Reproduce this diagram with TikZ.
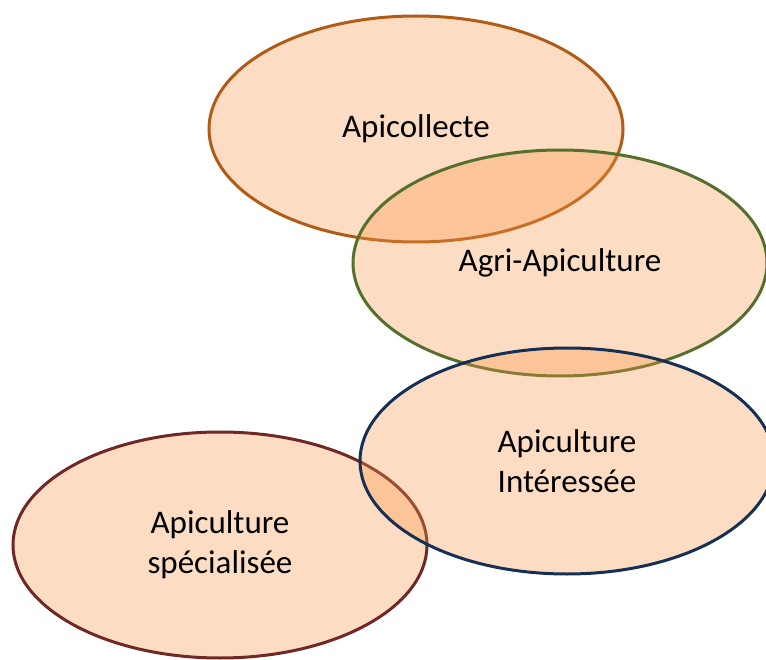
\documentclass[tikz,border=0pt]{standalone}
\usepackage{fontspec}
\setmainfont{Carlito}
\usetikzlibrary{shapes.geometric}
\definecolor{peach}{RGB}{247,150,70}
\definecolor{collecteline}{RGB}{176,92,22}
\definecolor{agriline}{RGB}{85,112,45}
\definecolor{interline}{RGB}{22,48,85}
\definecolor{specline}{RGB}{112,40,38}

\begin{document}
\begin{tikzpicture}[x=1pt, y=-1pt,
	zone node/.style={ellipse, draw, line width=3pt, fill=peach, fill opacity=0.33, text opacity=1,
		minimum width=414pt, minimum height=226pt, inner sep=0pt, align=center,
		font=\fontsize{33}{40}\selectfont}]
	\useasboundingbox (0,0) rectangle (766,660);
	
	% Ellipses, back to front
	\node[zone node, draw=collecteline] (collecte) at (416,129) {Apicollecte};
	\node[zone node, draw=agriline] (agri) at (560,263) {Agri-Apiculture};
	\node[zone node, draw=specline] (specialise) at (220,545) {Apiculture\\spécialisée};
	\node[zone node, draw=interline] (interesse) at (567,461) {Apiculture\\Intéressée};
\end{tikzpicture}
\end{document}
